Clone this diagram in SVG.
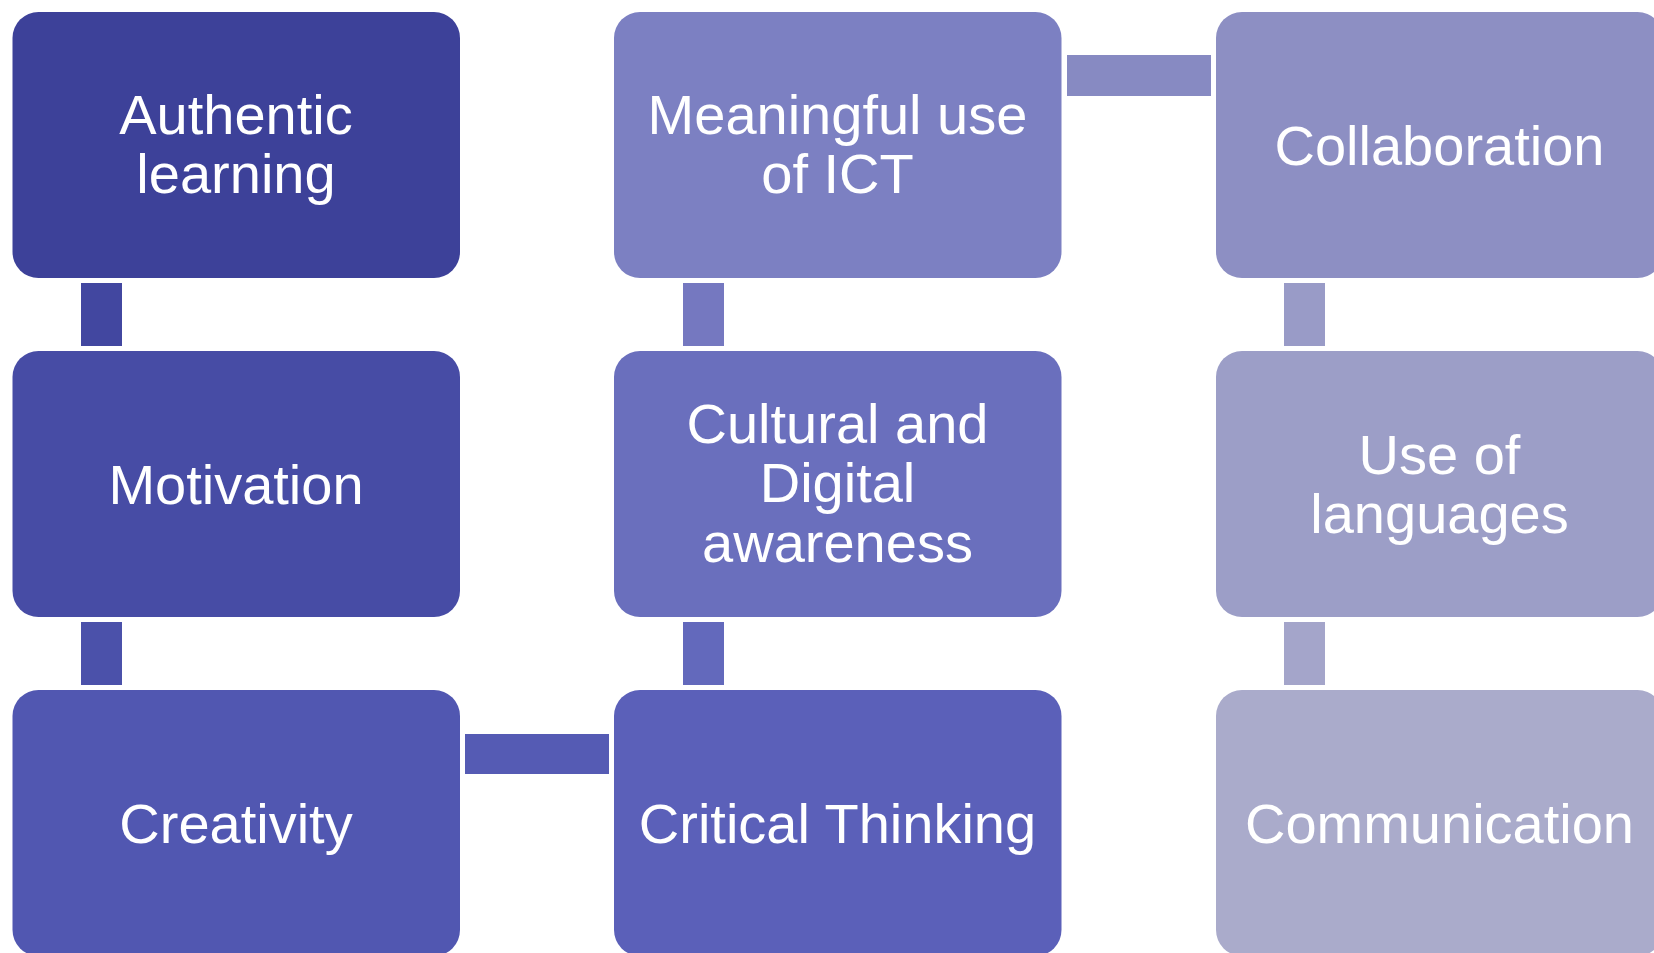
<svg xmlns="http://www.w3.org/2000/svg" width="1654" height="953" viewBox="0 0 1654 953">
<style>
  .box { stroke: none; }
  .lbl { font-family: "Liberation Sans", Arial, sans-serif; font-size: 56px; fill: #FFFFFF; text-anchor: middle; }
</style>
<rect x="0" y="0" width="1654" height="953" fill="#FFFFFF"/>
<g id="connectors">
  <rect x="81" y="283" width="41" height="63" fill="#4247A0"/>
  <rect x="81" y="622" width="41" height="63" fill="#4B51AA"/>
  <rect x="465" y="734" width="144" height="40" fill="#555BB4"/>
  <rect x="683" y="622" width="41" height="63" fill="#6369BC"/>
  <rect x="683" y="283" width="41" height="63" fill="#7578C0"/>
  <rect x="1067" y="55" width="144" height="41" fill="#878AC2"/>
  <rect x="1284" y="283" width="41" height="63" fill="#999BC7"/>
  <rect x="1284" y="622" width="41" height="63" fill="#A4A5CA"/>
</g>
<g id="node-authentic">
  <rect class="box" x="12.5" y="12" width="447.5" height="266" rx="26" fill="#3D4199"/>
  <text class="lbl" x="236" y="134">Authentic</text>
  <text class="lbl" x="236" y="193">learning</text>
</g>
<g id="node-motivation">
  <rect class="box" x="12.5" y="351" width="447.5" height="266" rx="26" fill="#474CA5"/>
  <text class="lbl" x="236" y="503.5">Motivation</text>
</g>
<g id="node-creativity">
  <rect class="box" x="12.5" y="690" width="447.5" height="266" rx="26" fill="#5157B1"/>
  <text class="lbl" x="236" y="842.5">Creativity</text>
</g>
<g id="node-critical">
  <rect class="box" x="614" y="690" width="447.5" height="266" rx="26" fill="#5B60B9"/>
  <text class="lbl" x="837.5" y="842.5">Critical Thinking</text>
</g>
<g id="node-cultural">
  <rect class="box" x="614" y="351" width="447.5" height="266" rx="26" fill="#6A6FBD"/>
  <text class="lbl" x="837.5" y="443">Cultural and</text>
  <text class="lbl" x="837.5" y="502">Digital</text>
  <text class="lbl" x="837.5" y="561.5">awareness</text>
</g>
<g id="node-meaningful">
  <rect class="box" x="614" y="12" width="447.5" height="266" rx="26" fill="#7C80C2"/>
  <text class="lbl" x="837.5" y="134">Meaningful use</text>
  <text class="lbl" x="837.5" y="193">of ICT</text>
</g>
<g id="node-collaboration">
  <rect class="box" x="1216" y="12" width="447.5" height="266" rx="26" fill="#8D8FC3"/>
  <text class="lbl" x="1439.5" y="164.5">Collaboration</text>
</g>
<g id="node-languages">
  <rect class="box" x="1216" y="351" width="447.5" height="266" rx="26" fill="#9C9EC7"/>
  <text class="lbl" x="1439.5" y="473.5">Use of</text>
  <text class="lbl" x="1439.5" y="532.5">languages</text>
</g>
<g id="node-communication">
  <rect class="box" x="1216" y="690" width="447.5" height="266" rx="26" fill="#AAABCB"/>
  <text class="lbl" x="1439.5" y="842.5">Communication</text>
</g>
</svg>
